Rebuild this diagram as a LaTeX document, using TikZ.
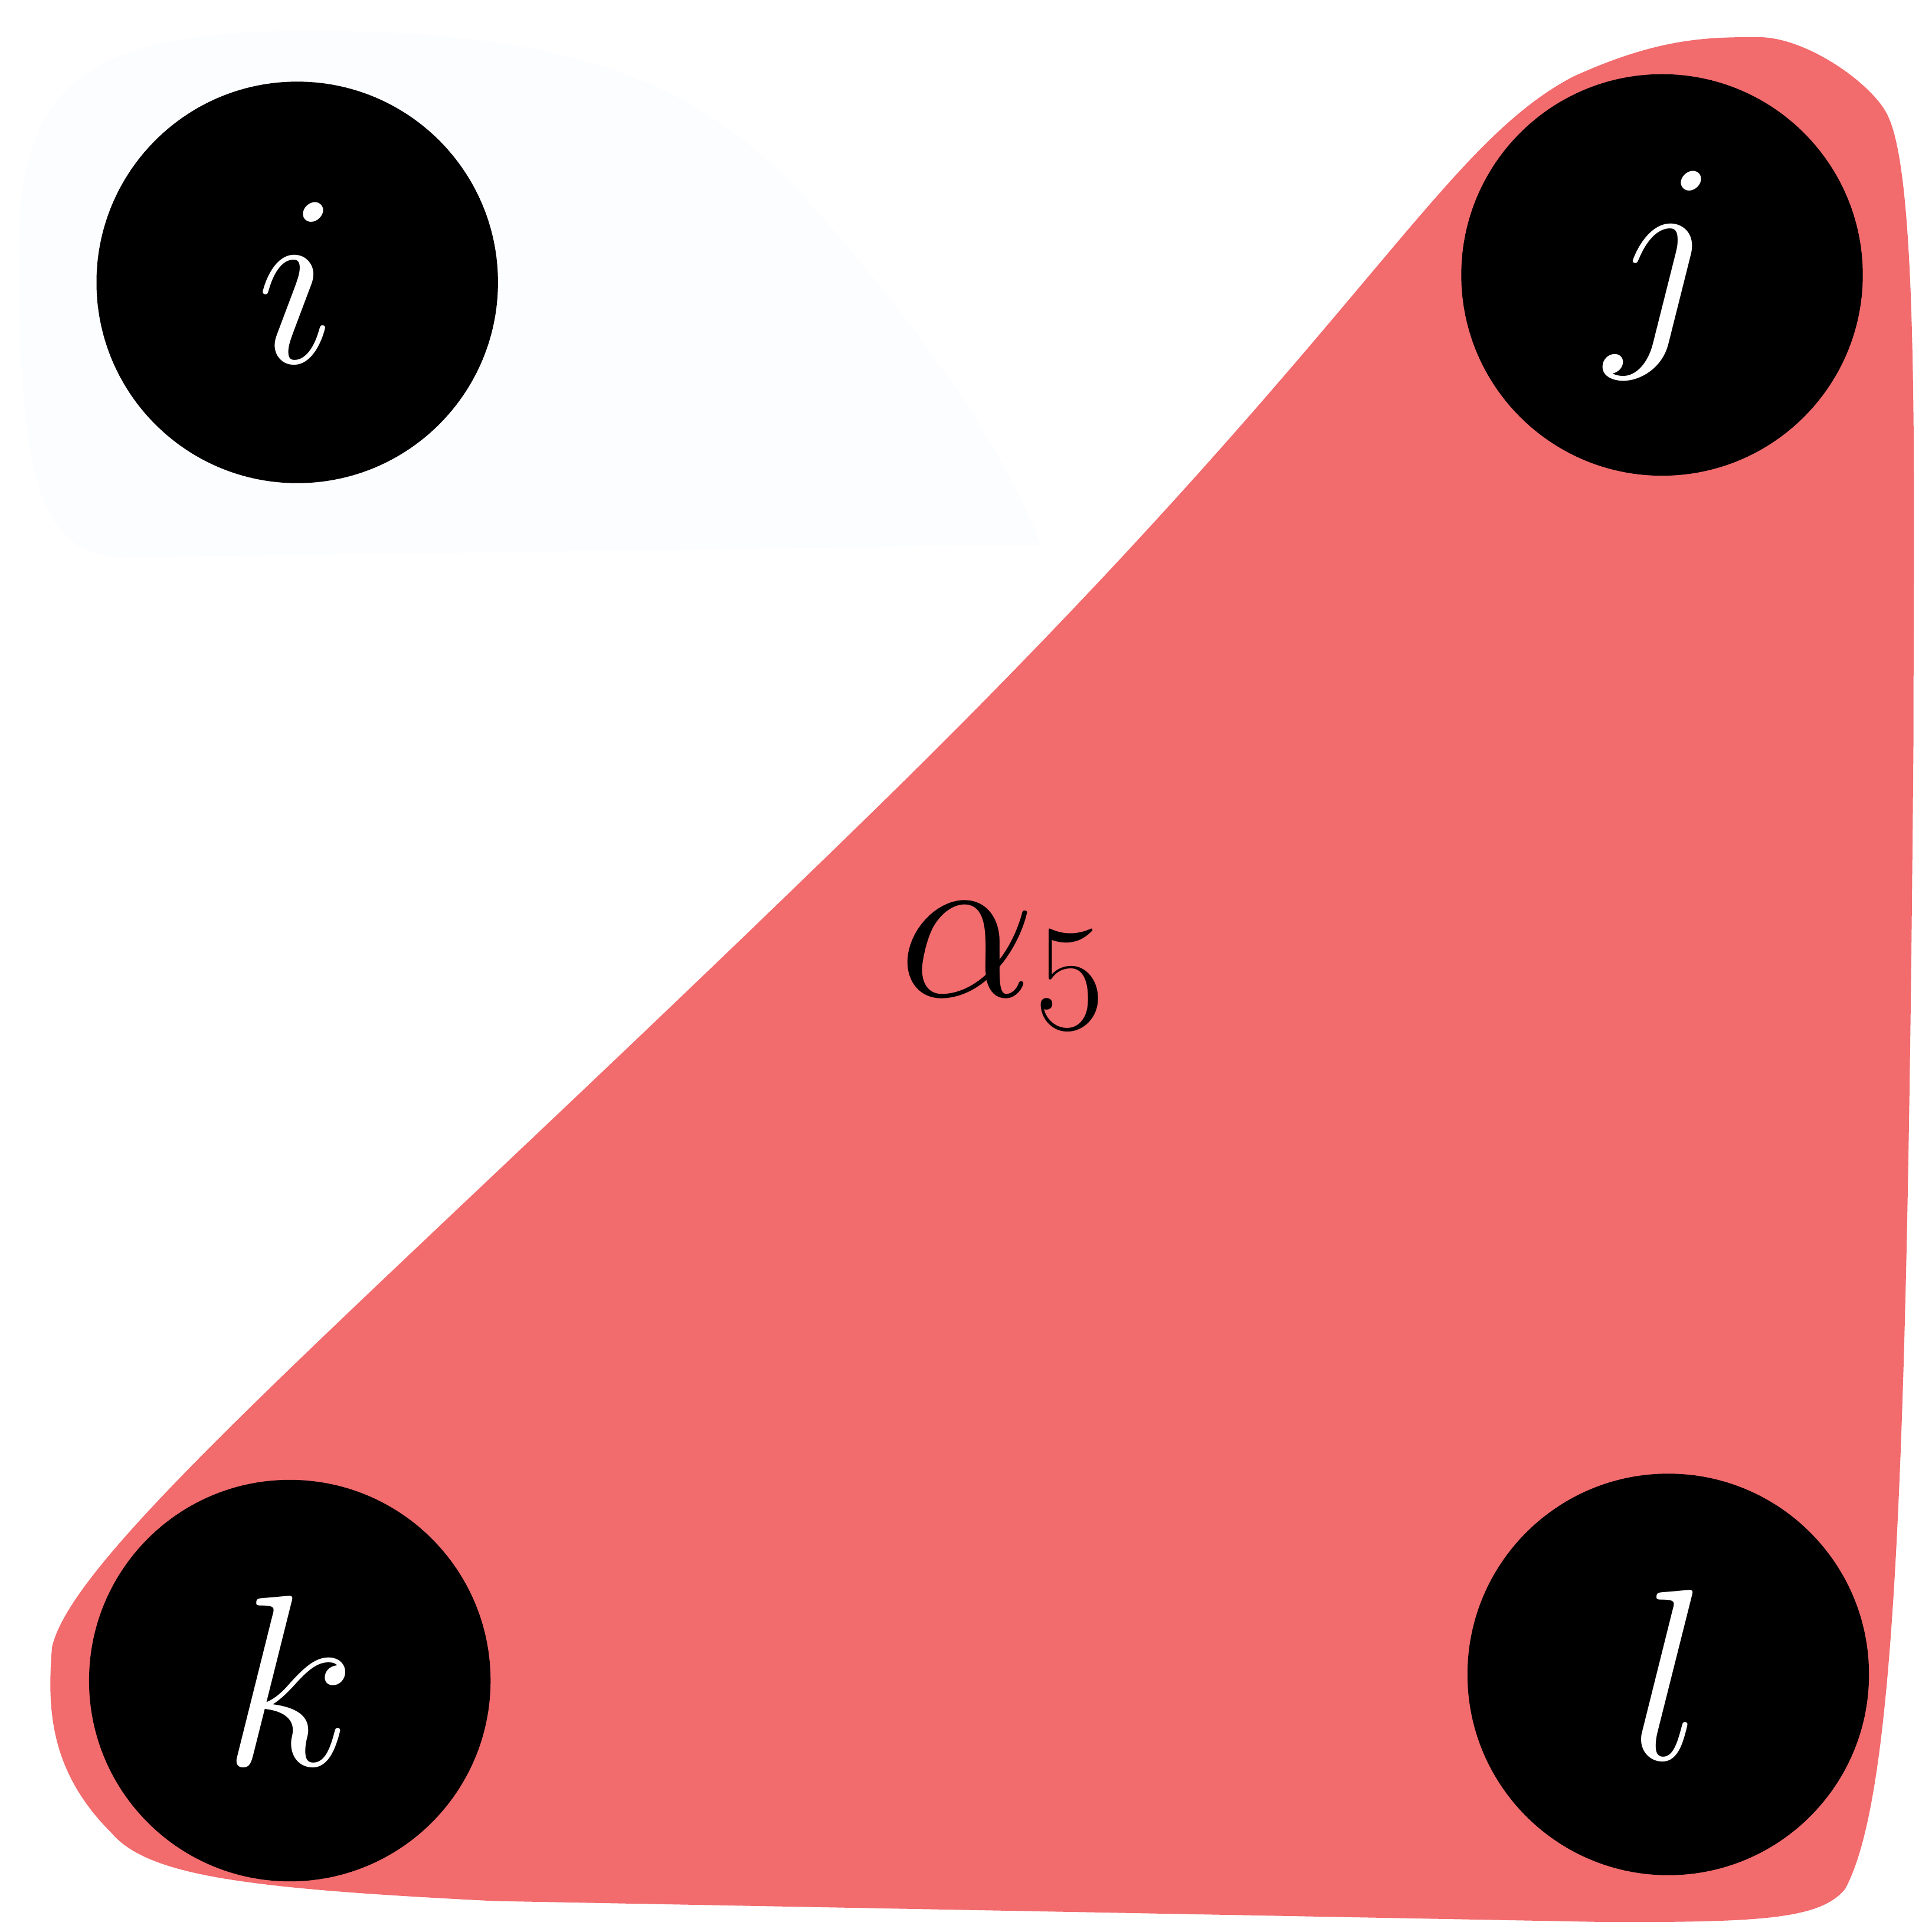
\documentclass[tikz,border=0pt]{standalone}
\usepackage{fix-cm}
\definecolor{blobred}{RGB}{242,107,109}
\definecolor{faint}{RGB}{252,253,255}
\begin{document}
\begin{tikzpicture}[x=0.01cm,y=-0.01cm,
  vert/.style={circle,fill=black,minimum size=3.24cm,inner sep=0pt,text=white,font=\fontsize{56}{60}\selectfont}]
\useasboundingbox (0,0) rectangle (1560,1560);
\fill[faint] (15,200) .. controls (15,60) and (80,25) .. (250,25) .. controls (450,25) and (560,60) .. (650,160) .. controls (750,270) and (820,380) .. (840,440) -- (100,450) .. controls (30,450) and (15,380) .. (15,200) -- cycle;
\fill[blobred] (1270,62) .. controls (1340,30) and (1380,30) .. (1420,30) .. controls (1460,30) and (1515,70) .. (1525,95) .. controls (1550,150) and (1545,400) .. (1545,600) .. controls (1540,1200) and (1530,1450) .. (1490,1525) .. controls (1470,1550) and (1420,1552) .. (1300,1552) -- (400,1535) .. controls (200,1525) and (120,1515) .. (90,1480) .. controls (40,1430) and (38,1380) .. (42,1330) .. controls (60,1250) and (300,1050) .. (700,660) .. controls (1100,270) and (1160,120) .. (1270,62) -- cycle;
\node[vert] (i) at (240,228) {$i$};
\node[vert] (j) at (1342,222) {$j$};
\node[vert] (k) at (234,1357) {$k$};
\node[vert] (l) at (1347,1352) {$l$};
\node[font=\fontsize{50}{54}\selectfont] (a) at (810,780) {$\alpha_5$};
\end{tikzpicture}
\end{document}
